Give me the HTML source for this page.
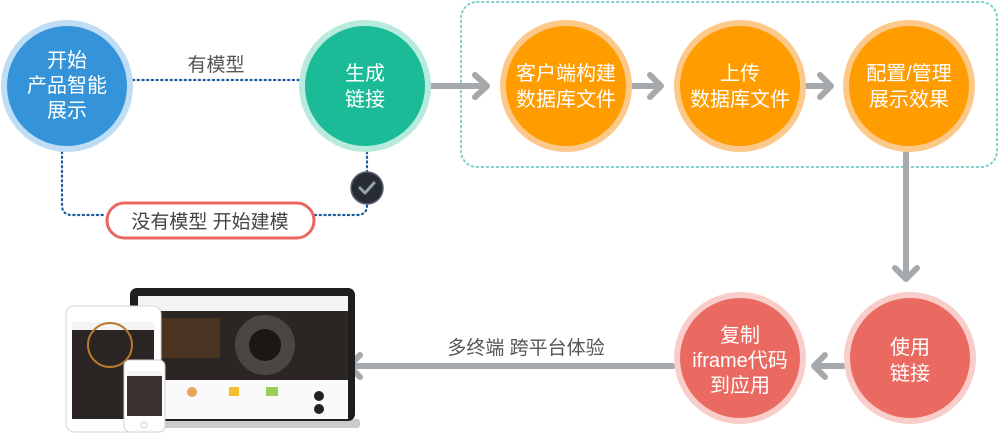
<!DOCTYPE html>
<html><head><meta charset="utf-8"><style>
html,body{margin:0;padding:0;background:#fff;}
body{width:1000px;height:433px;overflow:hidden;position:relative;font-family:"Liberation Sans","Noto Sans CJK SC",sans-serif;}
svg{position:absolute;left:0;top:0;}
text{font-family:"Liberation Sans","Noto Sans CJK SC",sans-serif;}
</style></head><body>
<svg width="1000" height="433" viewBox="0 0 1000 433">
<rect x="461" y="2" width="536" height="165" rx="16" fill="none" stroke="#7fd0c8" stroke-width="2" stroke-dasharray="1.5 3.5" stroke-linecap="round"/>
<g fill="none" stroke="#1d5c9c" stroke-width="2.2" stroke-dasharray="1.2 3.5" stroke-linecap="round">
<line x1="133" y1="80" x2="299" y2="80"/>
<path d="M62 152 V205 Q62 215 72 215 H106"/>
<path d="M315 215 H357 Q367 215 367 205 V204"/>
<line x1="367" y1="152" x2="367" y2="172"/>
</g>
<g fill="none" stroke="#a6a9ac" stroke-width="6" stroke-linecap="round" stroke-linejoin="round">
<line x1="432" y1="86" x2="486" y2="86"/><polyline points="475,75 487,86 475,97"/>
<line x1="632" y1="86" x2="660" y2="86"/><polyline points="650,75 661,86 650,97"/>
<line x1="805" y1="86" x2="830" y2="86"/><polyline points="820,75 831,86 820,97"/>
<line x1="906" y1="152" x2="906" y2="279"/><polyline points="895,268 906,279 917,268"/>
<line x1="843" y1="366" x2="815" y2="366"/><polyline points="825,355 814,366 825,377"/>
<line x1="673" y1="366" x2="350" y2="366"/><polyline points="360,355 349,366 360,377"/>
</g>
<circle cx="67" cy="86" r="63" fill="#3594d9" stroke="#bfddf5" stroke-width="6"/>
<circle cx="365" cy="86" r="63" fill="#1bbb98" stroke="#b8ebdd" stroke-width="6"/>
<circle cx="566" cy="86" r="63" fill="#ff9c00" stroke="#fcc98a" stroke-width="6"/>
<circle cx="740" cy="86" r="63" fill="#ff9c00" stroke="#fcc98a" stroke-width="6"/>
<circle cx="909" cy="86" r="63" fill="#ff9c00" stroke="#fcc98a" stroke-width="6"/>
<circle cx="740" cy="358" r="63" fill="#ea6a61" stroke="#f9cdca" stroke-width="6"/>
<circle cx="910" cy="358" r="63" fill="#ea6a61" stroke="#f9cdca" stroke-width="6"/>
<circle cx="367" cy="188" r="16" fill="#252c35" stroke="#5c636b" stroke-width="1.5"/>
<polyline points="360,188 365,193 374,183" fill="none" stroke="#9aa0a6" stroke-width="3" stroke-linecap="round" stroke-linejoin="round"/>
<rect x="107" y="203" width="207" height="35" rx="17.5" fill="#fff" stroke="#e8675f" stroke-width="3"/>
<text x="210" y="228" font-size="19" fill="#444" text-anchor="middle">没有模型 开始建模</text>
<text x="216" y="71" font-size="19" fill="#555" text-anchor="middle">有模型</text>
<text x="526" y="354" font-size="19" fill="#555" text-anchor="middle">多终端 跨平台体验</text>
<g fill="#fff" font-size="20" text-anchor="middle">
<text x="67" y="67">开始</text><text x="67" y="92">产品智能</text><text x="67" y="117">展示</text>
<text x="365" y="80">生成</text><text x="365" y="106">链接</text>
<text x="566" y="80">客户端构建</text><text x="566" y="106">数据库文件</text>
<text x="740" y="80">上传</text><text x="740" y="106">数据库文件</text>
<text x="909" y="80">配置/管理</text><text x="909" y="106">展示效果</text>
<text x="740" y="342">复制</text><text x="740" y="367">iframe代码</text><text x="740" y="392">到应用</text>
<text x="910" y="354">使用</text><text x="910" y="380">链接</text>
</g>
<rect x="118" y="419" width="242" height="9" rx="3" fill="#c9cbce"/>
<rect x="130" y="288" width="225" height="133" rx="7" fill="#1d1e20"/>
<rect x="138" y="296" width="210" height="15" fill="#f4f4f4"/>
<rect x="138" y="311" width="210" height="69" fill="#2b2623"/>
<circle cx="265" cy="345" r="30" fill="#4a4644"/>
<circle cx="265" cy="345" r="16" fill="#1a1715"/>
<rect x="150" y="318" width="70" height="40" fill="#5a3a22" opacity="0.7"/>
<rect x="138" y="380" width="210" height="39" fill="#fafafa"/>
<circle cx="192" cy="392" r="5" fill="#e9a35b"/><rect x="229" y="387" width="10" height="9" fill="#f0c030"/><rect x="266" y="387" width="12" height="9" fill="#9ccf55"/>
<circle cx="319" cy="396" r="5" fill="#222"/><circle cx="319" cy="409" r="5" fill="#222"/>
<rect x="66" y="306" width="95" height="126" rx="8" fill="#fff" stroke="#d6d6d6"/>
<rect x="72" y="322" width="82" height="97" fill="#2b2623"/>
<rect x="72" y="322" width="82" height="8" fill="#f4f4f4"/>
<circle cx="110" cy="345" r="22" fill="none" stroke="#b87a2c" stroke-width="2"/>
<rect x="124" y="360" width="41" height="72" rx="6" fill="#fff" stroke="#d0d0d0"/>
<rect x="127" y="371" width="35" height="45" fill="#3a3230"/>
<rect x="127" y="371" width="35" height="5" fill="#f4f4f4"/>
<circle cx="144" cy="425" r="3" fill="none" stroke="#ccc"/>
</svg>
</body></html>
